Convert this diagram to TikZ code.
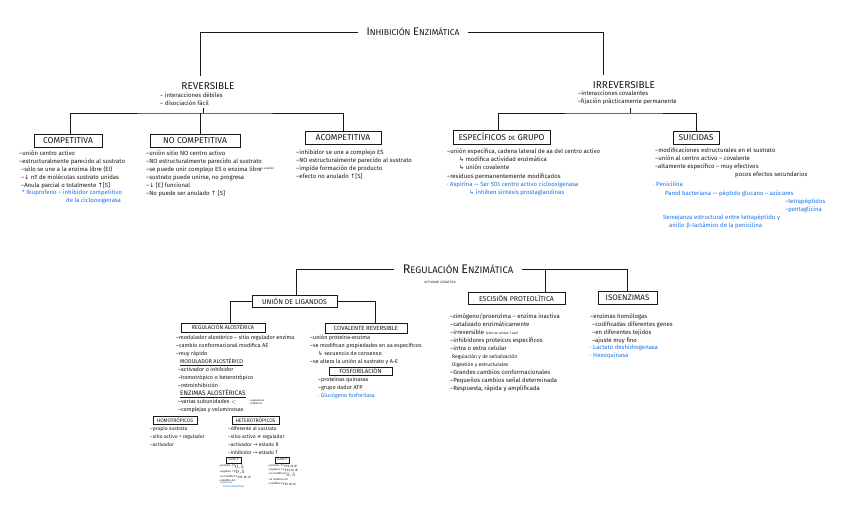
\documentclass[tikz,border=0pt]{standalone}
\usepackage{fontspec}
\setmainfont{Fira Sans}
\newfontfamily\symfont{DejaVu Sans}
\usetikzlibrary{positioning}

\definecolor{ink}{RGB}{25,25,25}
\definecolor{inkblue}{RGB}{25,115,235}

\newcommand{\arrup}{{\symfont ↑}}
\newcommand{\arrdn}{{\symfont ↓}}
\newcommand{\arrto}{{\symfont →}}
\newcommand{\arrhook}{{\symfont ↳}}
\newcommand{\noteq}{{\symfont ≠}}
\newcommand{\hbig}[1]{{\fontsize{11}{11}\selectfont #1}}
\newcommand{\hsmall}[1]{{\fontsize{8.5}{9}\selectfont #1}}

\tikzset{
  link/.style={line width=0.9pt, ink},
  headbox/.style={draw=ink, line width=1pt, inner sep=1pt, text=ink, font={\fontsize{8.5}{8.5}\selectfont}},
  notes/.style={anchor=north west, inner sep=0pt, align=left, text=ink, font={\fontsize{6}{8}\selectfont}},
  bluenotes/.style={notes, text=inkblue},
  smallnotes/.style={notes, font={\fontsize{5.5}{8}\selectfont}},
  tinynotes/.style={notes, font={\fontsize{2.7}{4}\selectfont}},
}

\begin{document}
\begin{tikzpicture}[x=1pt, y=-1pt]
\useasboundingbox[fill=white] (0,0) rectangle (848,509);

% inhibicion enzimatica
\node[text=ink, outer xsep=5pt] (inh) at (413,32) {\hbig{I}\hsmall{NHIBICIÓN} \hbig{E}\hsmall{NZIMÁTICA}};

\node[text=ink, outer ysep=3pt, font={\fontsize{10}{10}\selectfont}] (rev) at (208,86) {REVERSIBLE};
\node[notes] (revlist) at (160,92) {– interacciones débiles\\– disociación fácil};
\coordinate (revstem) at (203,108);
\coordinate (revfork) at (203,113);

\node[headbox, minimum width=68pt, minimum height=13pt] (comp) at (68,140.5) {COMPETITIVA};
\node[headbox, minimum width=90pt, minimum height=13pt] (nocomp) at (195,140.5) {NO COMPETITIVA};
\node[headbox, minimum width=76pt, minimum height=13pt] (acomp) at (343,138) {ACOMPETITIVA};

\node[notes] (complist) at (19,150) {–unión centro activo\\
  –estructuralmente parecido al sustrato\\
  \hspace*{2pt}–sólo se une a la enzima libre (EI)\\
  \hspace*{2pt}–\arrdn{} nº de moléculas sustrato unidas\\
  \hspace*{2pt}–Anula parcial o totalmente \arrup{}[S]};
\node[bluenotes] (compblue) at (22,190) {* Ibuprofeno – inhibidor competitivo\\\hspace*{44pt}de la ciclooxigenasa};

\node[notes] (nocomplist) at (146,150) {–unión sitio NO centro activo\\
  –NO estructuralmente parecido al sustrato\\
  –se puede unir complejo ES o enzima libre\\
  –sustrato puede unirse, no progresa\\
  –\arrdn{} [E] funcional\\
  –No puede ser anulado \arrup{} [S]};
\node[tinynotes] (estable) at (261,167) {(+ estable)};

\node[notes] (acomplist) at (296,150) {–inhibidor se une a complejo ES\\
  –NO estructuralmente parecido al sustrato\\
  –impide formación de producto\\
  –efecto no anulado \arrup{}[S]};

\node[text=ink, outer ysep=3pt, font={\fontsize{10}{10}\selectfont}] (irr) at (624,85) {IRREVERSIBLE};
\node[notes] (irrlist) at (578,91) {–interacciones covalentes\\–fijación prácticamente permanente};
\coordinate (irrstem) at (630,108);
\coordinate (irrfork) at (630,113);

\node[headbox, minimum width=97pt, minimum height=14pt] (espec) at (501.5,137) {ESPECÍFICOS {\fontsize{6}{6}\selectfont DE} GRUPO};
\node[headbox, minimum width=46pt, minimum height=13pt] (suic) at (696,138) {SUICIDAS};

\node[notes] (especlist) at (447,148) {–unión específica, cadena lateral de aa del centro activo\\
  \hspace*{12pt}\arrhook{} modifica actividad enzimática\\
  \hspace*{12pt}\arrhook{} unión covalente};
\node[notes] (especres) at (447,174) {–residuos permanentemente modificados};
\node[bluenotes] (especblue) at (447,182) {· Aspirina — Ser 503 centro activo ciclooxigenasa\\
  \hspace*{22pt}\arrhook{} inhiben síntesis prostaglandinas};

\node[notes] (suiclist) at (655,148) {–modificaciones estructurales en el sustrato\\
  –unión al centro activo – covalente\\
  –altamente específico – muy efectivos\\
  \hspace*{80pt}pocos efectos secundarios};
\node[bluenotes] (penic) at (653,182) {· Penicilina};
\node[bluenotes] (pared) at (665,190) {Pared bacteriana — péptido glucano – azúcares};
\node[bluenotes] (tetra) at (785,198) {–tetrapéptidos\\–pentaglicina};
\node[bluenotes] (semej) at (663,214) {Semejanza estructural entre tetrapéptido y\\\hspace*{6pt}anillo β-lactámico de la penicilina};

% regulacion enzimatica
\node[text=ink, outer xsep=5pt] (reg) at (458,269) {{\fontsize{12.5}{12}\selectfont R}{\fontsize{9.5}{10}\selectfont EGULACIÓN} {\fontsize{12.5}{12}\selectfont E}{\fontsize{9.5}{10}\selectfont NZIMÁTICA}};
\node[text=ink, inner sep=0pt, font={\fontsize{3.2}{4}\selectfont}] (act) at (440,282) {ACTIVIDAD CATALÍTICA};

\node[headbox, minimum width=85pt, minimum height=12pt, font={\fontsize{7}{7}\selectfont}] (union) at (294.5,301) {UNIÓN DE LIGANDOS};
\node[headbox, minimum width=97pt, minimum height=12pt, font={\fontsize{7}{7}\selectfont}] (escis) at (516.5,298) {ESCISIÓN PROTEOLÍTICA};
\node[headbox, minimum width=59pt, minimum height=13pt, font={\fontsize{8}{8}\selectfont}] (isoen) at (627.5,297.5) {ISOENZIMAS};
\coordinate (escistop) at (545,292);

\node[headbox, line width=0.8pt, minimum width=84pt, minimum height=9pt, font={\fontsize{5.5}{5.5}\selectfont}] (alost) at (223,327.5) {REGULACIÓN ALOSTÉRICA};
\node[headbox, line width=0.8pt, minimum width=82pt, minimum height=10pt, font={\fontsize{6}{6}\selectfont}] (coval) at (366,328) {COVALENTE REVERSIBLE};

\node[smallnotes] (alostlist) at (176,335) {–modulador alostérico – sitio regulador enzima\\
  –cambio conformacional modifica AE\\
  –muy rápido\\
  \hspace*{4pt}\underline{MODULADOR ALOSTÉRICO}\\
  \hspace*{2pt}–activador o inhibidor\\
  \hspace*{2pt}–homotrópico o heterotrópico\\
  \hspace*{2pt}–retroinhibición\\
  \hspace*{4pt}{\fontsize{6.5}{8}\selectfont\underline{ENZIMAS ALOSTÉRICAS}}\\
  \hspace*{2pt}–varias subunidades $<$\\
  \hspace*{2pt}–complejas y voluminosas};
\node[tinynotes, font={\fontsize{2.6}{3}\selectfont}] (subun) at (250,399) {reguladoras\\catalíticas};

\node[smallnotes] (covallist) at (310,335) {–unión proteína-enzima\\
  –se modifican propiedades en aa específicos\\
  \hspace*{8pt}\arrhook{} secuencia de consenso\\
  –se altera la unión al sustrato y A-E};
\node[headbox, line width=0.8pt, minimum width=63pt, minimum height=8pt, font={\fontsize{6}{6}\selectfont}] (fosfo) at (360.5,371) {FOSFORILACIÓN};
\node[smallnotes] (fosfolist) at (318,377) {–proteínas quinasas\\–grupo dador ATP};
\node[smallnotes, text=inkblue] (fosfoblue) at (318,393) {· Glucógeno fosforilasa};

\node[headbox, line width=0.8pt, minimum width=44pt, minimum height=8pt, font={\fontsize{5}{5}\selectfont}] (homo) at (175,420) {HOMOTRÓPICOS};
\node[headbox, line width=0.8pt, minimum width=47pt, minimum height=8pt, font={\fontsize{5}{5}\selectfont}] (hetero) at (255.5,420) {HETEROTRÓPICOS};
\node[smallnotes, font={\fontsize{5}{8}\selectfont}] (homolist) at (150,426) {–propio sustrato\\–sitio activo = regulador\\–activador};
\node[smallnotes, font={\fontsize{5}{8}\selectfont}] (heterolist) at (228,426) {–diferente al sustrato\\–sitio activo \noteq{} regulador\\–activador \arrto{} estado R\\–inhibidor \arrto{} estado T};

\node[headbox, line width=0.6pt, inner sep=0.5pt, minimum width=15pt, minimum height=6pt, font={\fontsize{2.8}{3}\selectfont}] (clk) at (233.5,460) {CLASE K};
\node[headbox, line width=0.6pt, inner sep=0.5pt, minimum width=14pt, minimum height=6pt, font={\fontsize{2.8}{3}\selectfont}] (clv) at (282,460) {CLASE V};
\node[tinynotes] (clklist) at (219,464.5) {–positivo \arrdn{}K$_{0,5}$\\–negativo \arrup{}K$_{0,5}$\\–no modifica V$_{max}$\\–modifica A.E};
\node[tinynotes, text=inkblue] (clkblue) at (219,481) {· Aspartato\\\hspace*{4pt}transcarbamilasa};
\node[tinynotes] (clvlist) at (268,464.5) {–positivo \arrup{}V$_{max}$\\–negativo \arrdn{}V$_{max}$\\–no modifica K$_{0,5}$\\–se modifica A.E\\–modifica V$_{max}$};

\node[notes] (escislist) at (450,313) {–zimógeno/proenzima – enzima inactiva\\
  –catalizado enzimáticamente\\
  –irreversible {\fontsize{3.5}{4}\selectfont (sólo se activa 1 vez)}\\
  –inhibidores proteicos específicos\\
  –intra o extra celular\\
  \hspace*{2pt}{\fontsize{5}{8}\selectfont Regulación y de señalización}\\
  \hspace*{2pt}{\fontsize{5}{8}\selectfont Digestión y estructurales}\\
  –Grandes cambios conformacionales\\
  –Pequeños cambios señal determinada\\
  –Respuesta, rápida y amplificada};

\node[notes] (isoenlist) at (590,313) {–enzimas homólogas\\
  \hspace*{2pt}–codificadas diferentes genes\\
  \hspace*{2pt}–en diferentes tejidos\\
  \hspace*{2pt}–ajuste muy fino};
\node[bluenotes] (isoenblue) at (590,345) {· Lactato deshidrogenasa\\· Hexoquinasa};

% connectors
\draw[link] (inh.west) -| ([xshift=-8pt]rev.north);
\draw[link] (inh.east) -| ([xshift=-21pt]irr.north);
\draw[link] (revstem) -- (revfork);
\draw[link] ([xshift=2pt]comp.north) |- (revfork) -| (acomp.north);
\draw[link] ([xshift=5pt]nocomp.north) -- ([xshift=5pt]nocomp.north |- revfork);
\draw[link] (irrstem) -- (irrfork);
\draw[link] ([xshift=-3pt]espec.north) |- (irrfork) -| (suic.north);

\draw[link] (reg.west) -| ([xshift=1.5pt]union.north);
\draw[link] (reg.east) -| (isoen.north);
\draw[link] (escistop) -- (escistop |- reg.east);
\draw[link] (union.west) -| ([xshift=7pt]alost.north);
\draw[link] (union.east) -| ([xshift=9pt]coval.north);
\end{tikzpicture}
\end{document}
